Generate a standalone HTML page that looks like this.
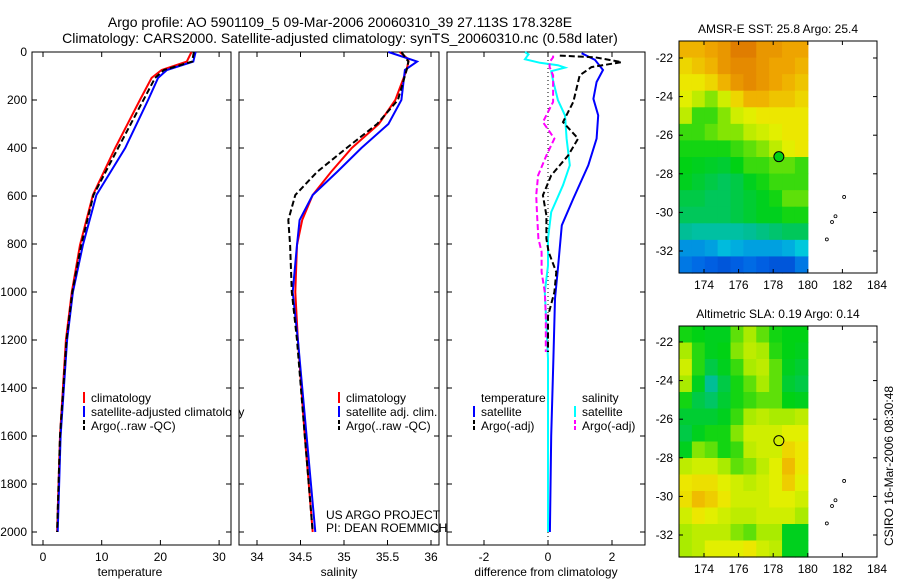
<!DOCTYPE html>
<html><head><meta charset="utf-8"><style>
body{margin:0;background:#fff;}
svg{display:block;font-family:"Liberation Sans",sans-serif;}
</style></head><body>
<svg id="c" width="900" height="580" xmlns="http://www.w3.org/2000/svg"></svg>
<script>
// ---------- data ----------
const depthT = [0,40,75,108,200,400,596,804,1000,1200,1600,2000];
const tempClim = [25.3,24.5,20.2,18.5,16.5,12.3,8.5,6.3,4.9,3.9,2.9,2.4];
const tempSat  = [26.0,25.6,21.1,19.6,17.9,14.0,9.1,6.8,5.1,4.1,3.0,2.5];
const tempArgo = [25.7,25.4,20.6,19.1,17.1,12.8,8.6,6.5,5.0,4.0,2.9,2.4];
const depthS = [0,30,40,75,200,300,400,500,596,700,804,1000,1200,1600,2000];
const salClim = [35.64,35.74,35.74,35.72,35.59,35.40,35.09,34.85,34.64,34.52,34.46,34.44,34.47,34.55,34.64];
const salSat  = [35.51,35.76,35.84,35.70,35.66,35.51,35.20,34.92,34.64,34.49,34.46,34.41,34.47,34.57,34.67];
const salArgo = [35.66,35.72,35.74,35.72,35.62,35.38,35.03,34.69,34.44,34.36,34.38,34.40,34.46,34.55,34.64];
const depthDiff = [5,33,75,125,195,264,361,472,611,722,889,1028,1278,1600,2000];
const diffSatT = [1.05,1.47,1.72,1.52,1.42,1.57,1.52,1.26,0.79,0.43,0.32,0.22,0.17,0.10,0.06];
const depthDiffS = [0,10,30,45,55,65,80,120,200,264,361,472,555,667,778,890,1000,1278,1600,2000];
const diffSatS = [-0.72,-0.61,-0.72,-0.25,0.31,0.53,0.1,0.16,0.31,0.53,0.58,0.68,0.47,0.1,0.0,0.0,-0.1,0.0,0.0,0.0];
const depthArgoDiff = [15,22,42,63,97,153,208,292,361,431,514,597,681,778,833,917,1000,1100,1250];
const diffArgoT = [0.37,1.47,2.3,1.36,0.99,0.89,0.79,0.47,0.94,0.63,0.1,-0.16,-0.05,-0.05,0.02,0.26,0.2,0.0,0.0];
const diffArgoS = [0.16,0.16,0.05,0.05,0.16,0.16,0.16,-0.16,0.2,-0.05,-0.31,-0.37,-0.34,-0.3,-0.2,-0.2,-0.1,-0.07,-0.07];
const depthTicks = [0,200,400,600,800,1000,1200,1400,1600,1800,2000];
const tempTicks = [0,10,20,30];
const salTicks = [34,34.5,35,35.5,36];
const salTickLabels = ["34","34.5","35","35.5","36"];
const diffTicks = [-2,0,2];
const latTicks = [-22,-24,-26,-28,-30,-32];
const lonTicks = [174,176,178,180,182,184];
const sstGrid = [
[0.78,0.78,0.8,0.82,0.86,0.86,0.82,0.82,0.8,0.8],
[0.74,0.76,0.78,0.82,0.84,0.84,0.82,0.8,0.8,0.78],
[0.72,0.72,0.74,0.78,0.82,0.84,0.82,0.8,0.78,0.76],
[0.7,0.66,0.62,0.68,0.74,0.78,0.78,0.76,0.76,0.74],
[0.66,0.58,0.58,0.62,0.68,0.7,0.72,0.72,0.72,0.72],
[0.58,0.58,0.6,0.62,0.62,0.66,0.68,0.7,0.72,0.72],
[0.56,0.56,0.56,0.56,0.58,0.6,0.62,0.66,0.7,0.72],
[0.55,0.54,0.53,0.52,0.55,0.58,0.58,0.6,0.6,0.58],
[0.54,0.52,0.5,0.48,0.5,0.54,0.56,0.58,0.58,0.58],
[0.5,0.5,0.48,0.48,0.5,0.52,0.54,0.56,0.6,0.6],
[0.48,0.48,0.48,0.48,0.5,0.52,0.54,0.54,0.56,0.56],
[0.42,0.4,0.4,0.4,0.4,0.42,0.44,0.46,0.48,0.48],
[0.22,0.22,0.24,0.28,0.26,0.24,0.24,0.24,0.26,0.3],
[0.18,0.16,0.14,0.12,0.14,0.16,0.14,0.12,0.12,0.18]];
const slaGrid = [
[0.56,0.55,0.54,0.54,0.6,0.64,0.6,0.56,0.55,0.55],
[0.64,0.57,0.54,0.55,0.62,0.66,0.64,0.57,0.55,0.54],
[0.68,0.57,0.5,0.54,0.58,0.64,0.66,0.6,0.54,0.52],
[0.64,0.54,0.42,0.5,0.56,0.6,0.64,0.6,0.52,0.5],
[0.56,0.5,0.47,0.52,0.56,0.58,0.6,0.6,0.55,0.54],
[0.52,0.52,0.52,0.54,0.58,0.64,0.66,0.64,0.64,0.66],
[0.5,0.54,0.56,0.56,0.62,0.68,0.68,0.68,0.7,0.7],
[0.54,0.62,0.6,0.56,0.58,0.66,0.68,0.68,0.74,0.72],
[0.66,0.68,0.68,0.64,0.6,0.62,0.66,0.7,0.77,0.72],
[0.72,0.73,0.73,0.7,0.68,0.66,0.68,0.7,0.75,0.7],
[0.73,0.77,0.75,0.72,0.68,0.68,0.68,0.7,0.7,0.68],
[0.68,0.72,0.7,0.68,0.66,0.66,0.68,0.68,0.68,0.64],
[0.64,0.66,0.66,0.66,0.62,0.6,0.64,0.64,0.54,0.54],
[0.64,0.66,0.7,0.7,0.7,0.72,0.68,0.66,0.54,0.54]];
const floatLon = 178.328, floatLat = -27.113;

// ---------- helpers ----------
const svg = document.getElementById('c');
const NS = 'http://www.w3.org/2000/svg';
function mk(tag, attrs, parent){const e=document.createElementNS(NS,tag);for(const k in attrs)e.setAttribute(k,attrs[k]);(parent||svg).appendChild(e);return e;}
function txt(x,y,s,anchor,size,parent){const t=mk('text',{x:x,y:y,'text-anchor':anchor||'middle','font-size':size||12,fill:'#000'},parent);t.textContent=s;return t;}
const Y0=52, Y1=545;
const yD = d => 52 + d*0.24;
const xT = v => 43 + v*5.87;
const xS = v => 257 + (v-34)*87;
const xDf = v => 548 + v*32;

function frame(x0,x1,name){
  const r=mk('rect',{x:x0,y:Y0,width:x1-x0,height:Y1-Y0,fill:'none',stroke:'#000','stroke-width':1});
  
  depthTicks.forEach(d=>{mk('line',{x1:x0,x2:x0+5,y1:yD(d),y2:yD(d),stroke:'#000'});mk('line',{x1:x1,x2:x1-5,y1:yD(d),y2:yD(d),stroke:'#000'});});
}
function xticks(vals,labels,sc,name){
  const g=mk('g',{});
  vals.forEach((v,i)=>{const x=sc(v);mk('line',{x1:x,x2:x,y1:Y0,y2:Y0+5,stroke:'#000'},g);mk('line',{x1:x,x2:x,y1:Y1,y2:Y1-5,stroke:'#000'},g);txt(x,561,labels[i],'middle',12,g);});
}
function line(xs,ds,sx,color,w,dash,name){
  const p=xs.map((v,i)=>sx(v).toFixed(1)+','+yD(ds[i]).toFixed(1)).join(' ');
  const e=mk('polyline',{points:p,fill:'none',stroke:color,'stroke-width':w});
  if(dash)e.setAttribute('stroke-dasharray',dash);
  
}

const t1=txt(340,27,'Argo profile: AO 5901109_5 09-Mar-2006 20060310_39 27.113S 178.328E','middle',14);

const t2=txt(340,43,'Climatology: CARS2000. Satellite-adjusted climatology: synTS_20060310.nc (0.58d later)','middle',14);


frame(32,231,'temperature-panel');
const yl=mk('g',{});
depthTicks.forEach(d=>txt(27,yD(d)+4,String(d),'end',12,yl));
xticks(tempTicks,tempTicks.map(String),xT,'temperature-x-axis');
const l1=txt(130,576,'temperature');
line(tempClim,depthT,xT,'#f00',2,null,'temp-climatology-line');
line(tempSat,depthT,xT,'#00f',2,null,'temp-satellite-line');
line(tempArgo,depthT,xT,'#000',2,'6,3','temp-argo-line');

frame(239,439,'salinity-panel');
xticks(salTicks,salTickLabels,xS,'salinity-x-axis');
const l2=txt(339,576,'salinity');
line(salClim,depthS,xS,'#f00',2,null,'sal-climatology-line');
line(salSat,depthS,xS,'#00f',2,null,'sal-satellite-line');
line(salArgo,depthS,xS,'#000',2,'6,3','sal-argo-line');
txt(326,519,'US ARGO PROJECT','start',12);
txt(326,532,'PI: DEAN ROEMMICH','start',12);

frame(447,645,'difference-panel');
xticks(diffTicks,diffTicks.map(String),xDf,'difference-x-axis');
const l3=txt(546,576,'difference from climatology');
mk('line',{x1:xDf(0),x2:xDf(0),y1:Y0,y2:Y1,stroke:'#000','stroke-dasharray':'1,3'});
line(diffSatT,depthDiff,xDf,'#00f',2,null,'diff-satellite-temp-line');
line(diffSatS,depthDiffS,xDf,'#0ff',2,null,'diff-satellite-sal-line');
line(diffArgoT,depthArgoDiff,xDf,'#000',2,'6,3','diff-argo-temp-line');
line(diffArgoS,depthArgoDiff,xDf,'#f0f',2,'6,3','diff-argo-sal-line');

function legItem(x,y,color,label,dash,name){
  const g=mk('g',{});
  const l=mk('line',{x1:x,x2:x,y1:y-10,y2:y+1,stroke:color,'stroke-width':2},g);
  if(dash)l.setAttribute('stroke-dasharray','4,2');
  txt(x+7,y,label,'start',12,g);
}
legItem(84,402,'#f00','climatology',null,'legend-climatology');
legItem(84,416,'#00f','satellite-adjusted climatology',null,'legend-satellite');
legItem(84,430,'#000','Argo(..raw -QC)',1,'legend-argo');
legItem(339,402,'#f00','climatology',null,'legend2-climatology');
legItem(339,416,'#00f','satellite adj. clim.',null,'legend2-satellite');
legItem(339,430,'#000','Argo(..raw -QC)',1,'legend2-argo');
txt(481,402,'temperature','start',12);
txt(582,402,'salinity','start',12);
legItem(474,416,'#00f','satellite',null,'legend3-sat-temp');
legItem(474,430,'#000','Argo(-adj)',1,'legend3-argo-temp');
legItem(575,416,'#0ff','satellite',null,'legend3-sat-sal');
legItem(575,430,'#f0f','Argo(-adj)',1,'legend3-argo-sal');
mk('rect',{x:231.5,y:405,width:7,height:15,fill:'#fff'});

// ---------- maps ----------
const cmapStops=[[0,[0,30,170]],[0.15,[0,100,230]],[0.3,[0,200,220]],[0.42,[0,190,150]],[0.55,[0,210,20]],[0.64,[170,235,0]],[0.71,[235,240,0]],[0.79,[240,170,0]],[0.9,[215,100,0]],[1,[180,40,0]]];
function cmap(v){
  v=Math.max(0,Math.min(1,v));
  for(let i=1;i<cmapStops.length;i++){
    const [a,ca]=cmapStops[i-1],[b,cb]=cmapStops[i];
    if(v<=b){const t=(v-a)/(b-a);return 'rgb('+ca.map((c,k)=>Math.round(c+(cb[k]-c)*t)).join(',')+')';}
  }
}
function map(top,bottom,lat22y,lat32y,grid,title,name,filled){
  const X0=679,X1=877;
  const lonX=l=>704+(l-174)*17.3;
  const latY=l=>lat22y+(-22-l)*(lat32y-lat22y)/10;
  const g=mk('g',{});
  const rows=grid.length, cols=grid[0].length;
  const cx0=X0, cx1=lonX(180), cw=(cx1-cx0)/cols, ch=(bottom-top)/rows;
  grid.forEach((row,i)=>row.forEach((v,j)=>{
    const c=mk('rect',{x:(cx0+j*cw).toFixed(2),y:(top+i*ch).toFixed(2),width:(cw+0.6).toFixed(2),height:(ch+0.6).toFixed(2),fill:cmap(v)},g);
    
  }));
  mk('rect',{x:X0,y:top,width:X1-X0,height:bottom-top,fill:'none',stroke:'#000'},g);
  latTicks.forEach(l=>{const y=latY(l);mk('line',{x1:X0,x2:X0+4,y1:y,y2:y,stroke:'#000'},g);mk('line',{x1:X1,x2:X1-4,y1:y,y2:y,stroke:'#000'},g);txt(673,y+4,String(l),'end',12,g);});
  lonTicks.forEach(l=>{const x=lonX(l);mk('line',{x1:x,x2:x,y1:top,y2:top+4,stroke:'#000'},g);mk('line',{x1:x,x2:x,y1:bottom,y2:bottom-4,stroke:'#000'},g);txt(x,bottom+16,String(l),'middle',12,g);});
  txt(778,top-8,title,'middle',12,g);
  [[182.1,-29.2],[181.6,-30.2],[181.4,-30.5],[181.1,-31.4]].forEach(p=>mk('circle',{cx:lonX(p[0]),cy:latY(p[1]),r:1.5,fill:'none',stroke:'#000','stroke-width':0.8},g));
  const c=mk('circle',{cx:lonX(floatLon),cy:latY(floatLat),r:5,fill:filled?cmap(0.55):'none',stroke:'#000'},g);
  
}
map(41,273,58,251,sstGrid,'AMSR-E SST: 25.8 Argo: 25.4','sst-map',true);
map(326,557,342,535,slaGrid,'Altimetric SLA: 0.19 Argo: 0.14','sla-map',false);
const cs=txt(0,0,'CSIRO 16-Mar-2006 08:30:48','middle',12);
cs.setAttribute('transform','translate(893,466) rotate(-90)');

</script>
</body></html>
